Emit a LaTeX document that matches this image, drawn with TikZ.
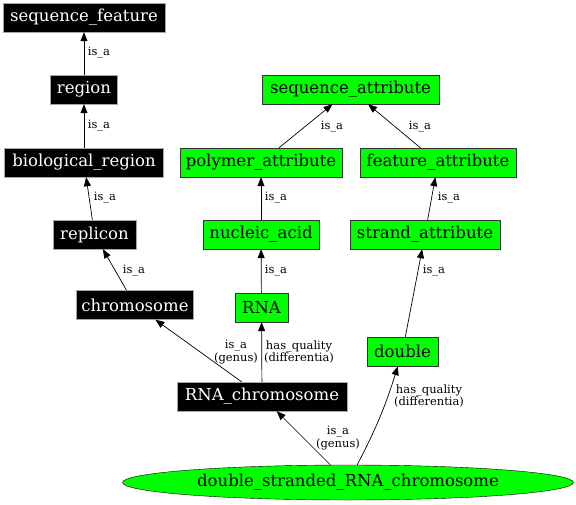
\documentclass[tikz,border=0pt]{standalone}
\usepackage{fontspec}
\setmainfont{DejaVu Serif}
\usetikzlibrary{arrows.meta, shapes.geometric}

\definecolor{termgreen}{HTML}{00FF00}

\begin{document}
\begin{tikzpicture}[x=1pt,y=-1pt, every node/.style={font=\fontsize{16.5}{18}\selectfont},
    blackterm/.style={draw=gray!70, fill=black, text=white, minimum height=29pt, inner sep=0pt},
    greenterm/.style={draw=black!80, fill=termgreen, minimum height=29pt, inner sep=0pt},
    rel/.style={font=\fontsize{11.5}{11}\selectfont, align=center, inner sep=0pt},
    isa/.style={-{Triangle[length=9pt,width=7pt]}, line width=0.7pt}]

    \useasboundingbox (0,0) rectangle (576,504);

    % left column
    \node[blackterm, minimum width=162pt] (seqfeat)    at (84,17.5)   {sequence\_feature};
    \node[blackterm, minimum width=67pt]  (region)     at (84,89.5)   {region};
    \node[blackterm, minimum width=159pt] (bioregion)  at (84,162.5)  {biological\_region};
    \node[blackterm, minimum width=83pt]  (replicon)   at (94.5,234.5) {replicon};
    \node[blackterm, minimum width=117pt] (chromosome) at (135,305)   {chromosome};
    \node[blackterm, minimum width=170pt] (rnachrom)   at (262,396.5) {RNA\_chromosome};

    % attribute columns
    \node[greenterm, minimum width=177pt] (seqattr)    at (350.5,89.5) {sequence\_attribute};
    \node[greenterm, minimum width=162pt] (polyattr)   at (261,162.5)  {polymer\_attribute};
    \node[greenterm, minimum width=156pt] (featattr)   at (438,162.5)  {feature\_attribute};
    \node[greenterm, minimum width=116pt] (nucacid)    at (261,234.5)  {nucleic\_acid};
    \node[greenterm, minimum width=150pt] (strandattr) at (425,234.5)  {strand\_attribute};
    \node[greenterm, minimum width=53pt]  (rna)        at (261.5,307.5) {RNA};
    \node[greenterm, minimum width=71pt]  (double)     at (402.5,351.5) {double};

    \node[ellipse, draw=black, fill=termgreen, minimum width=451pt, minimum height=35pt, inner sep=0pt]
      (dsrna) at (348,482.5) {double\_stranded\_RNA\_chromosome};

    \draw[isa] (region) -- (seqfeat);
    \draw[isa] (bioregion) -- (region);
    \draw[isa] (replicon) -- (bioregion);
    \draw[isa] (chromosome) -- (replicon);
    \draw[isa] (rnachrom) -- (chromosome);
    \draw[isa] (rnachrom) -- (rna);
    \draw[isa] (rna) -- (nucacid);
    \draw[isa] (nucacid) -- (polyattr);
    \draw[isa] (polyattr) -- (seqattr);
    \draw[isa] (featattr) -- (seqattr);
    \draw[isa] (strandattr) -- (featattr);
    \draw[isa] (double) -- (strandattr);
    \draw[isa] (dsrna) -- (rnachrom);
    \draw[isa] (dsrna) to[bend right=5] (double);

    \node[rel] (l1)  at (99,53)    {is\_a};
    \node[rel] (l2)  at (99,126)   {is\_a};
    \node[rel] (l3)  at (105,198)  {is\_a};
    \node[rel] (l4)  at (134,271)  {is\_a};
    \node[rel] (l5)  at (236,352)  {is\_a\\(genus)};
    \node[rel] (l6)  at (299,352)  {has\_quality\\(differentia)};
    \node[rel] (l7)  at (276,198)  {is\_a};
    \node[rel] (l8)  at (276,271)  {is\_a};
    \node[rel] (l9)  at (332,127)  {is\_a};
    \node[rel] (l10) at (420,127)  {is\_a};
    \node[rel] (l11) at (449,198)  {is\_a};
    \node[rel] (l12) at (434,271)  {is\_a};
    \node[rel] (l13) at (338,438)  {is\_a\\(genus)};
    \node[rel] (l14) at (429,396)  {has\_quality\\(differentia)};

\end{tikzpicture}
\end{document}
